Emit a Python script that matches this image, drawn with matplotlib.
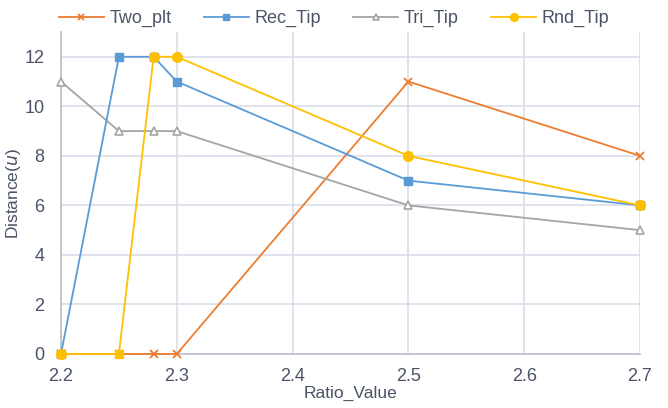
import matplotlib.pyplot as plt
import numpy as np

ratio = [2.2, 2.25, 2.28, 2.3, 2.5, 2.7]
two_plt = [0, 0, 0, 0, 11, 8]
rec_tip = [0, 12, 12, 11, 7, 6]
tri_tip = [11, 9, 9, 9, 6, 5]
rnd_tip = [0, 0, 12, 12, 8, 6]

plt.rcParams['font.family'] = ['Liberation Sans', 'DejaVu Sans']
plt.rcParams['font.size'] = 10
txt = '#4a5466'
grid = '#d9dee8'

fig = plt.figure(figsize=(6.68, 4.08), dpi=100)
ax = fig.add_axes([61/668, 1 - 354/408, (640-61)/668, (354-32)/408])

ax.plot(ratio, two_plt, color='#ED7D31', marker='x', ms=6, mew=1.3, lw=1.3, label='Two_plt', zorder=3, clip_on=False)
ax.plot(ratio, rec_tip, color='#5B9BD5', marker='s', ms=6, lw=1.3, label='Rec_Tip', zorder=4, clip_on=False)
ax.plot(ratio, tri_tip, color='#A5A5A5', marker='^', ms=6, mfc='white', mew=1.2, lw=1.3, label='Tri_Tip', zorder=3, clip_on=False)
ax.plot(ratio, rnd_tip, color='#FFC000', marker='o', ms=7, lw=1.3, label='Rnd_Tip', zorder=5,
        markevery=[0, 2, 3, 4, 5], clip_on=False)
# the point at 2.25 shows as a square in the original
ax.plot(ratio[1], rnd_tip[1], color='#FFC000', marker='s', ms=6, ls='none', zorder=5, clip_on=False)

ax.set_xlim(2.2, 2.7)
ax.set_ylim(0, 13)
ax.set_xticks(np.arange(2.2, 2.71, 0.1))
ax.set_xticklabels(['2.2', '2.3', '2.4', '2.5', '2.6', '2.7'])
ax.set_yticks(range(0, 13, 2))
ax.grid(True, color=grid, lw=1.2)
ax.set_axisbelow(True)
ax.tick_params(length=0, labelsize=13, colors=txt)
ax.tick_params(axis='x', pad=10)
ax.tick_params(axis='y', pad=12)
for s in ['top', 'right']:
    ax.spines[s].set_visible(False)
for s in ['left', 'bottom']:
    ax.spines[s].set_color('#b8c0cc')
    ax.spines[s].set_linewidth(1.2)

ax.set_xlabel('Ratio_Value', fontsize=12.5, color=txt, labelpad=1)
ax.set_ylabel('Distance($u$)', fontsize=12.5, color=txt, labelpad=1)

fig.legend(loc='upper center', bbox_to_anchor=(0.5, 1.015), ncol=4, frameon=False,
           fontsize=13, labelcolor=txt, handlelength=2.5, columnspacing=1.8, handletextpad=0.3,
           markerscale=0.8)

fig.savefig('out.png', dpi=100)
